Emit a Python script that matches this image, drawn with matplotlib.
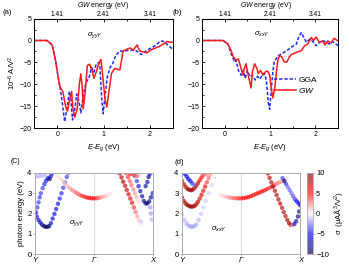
import numpy as np
import matplotlib
matplotlib.use('Agg')
import matplotlib.pyplot as plt
from matplotlib.lines import Line2D

plt.rcParams['font.family'] = ['Liberation Sans', 'DejaVu Sans']
plt.rcParams['mathtext.fontset'] = 'custom'
plt.rcParams['mathtext.rm'] = 'Liberation Sans'
plt.rcParams['mathtext.it'] = 'Liberation Sans:italic'
plt.rcParams['font.size'] = 5.5

# ---- (a) sigma_yyY : E-Eg (eV) vs 1e-6 A/V^2 ----
a_gw_x = [-0.5, -0.22, -0.11, -0.04, 0.02, 0.06, 0.12, 0.18, 0.22, 0.27, 0.31, 0.34, 0.38, 0.43,
          0.48, 0.51, 0.54, 0.56, 0.60, 0.65, 0.70, 0.76, 0.79, 0.84, 0.89, 0.94, 0.97, 1.03,
          1.07, 1.12, 1.17, 1.24, 1.35, 1.42, 1.50, 1.57, 1.64, 1.72, 1.78, 1.86, 1.93, 2.03,
          2.12, 2.21, 2.29, 2.36, 2.46, 2.5]
a_gw_y = [0.0, 0.0, -1.0, -4.3, -8.3, -10.6, -11.6, -14.9, -16.1, -13.4, -11.6, -15.6, -17.5, -15.6,
          -9.7, -7.6, -10.8, -15.6, -12.0, -5.7, -5.4, -7.2, -8.6, -7.2, -5.4, -4.3, -6.9, -13.4,
          -15.2, -11.2, -7.5, -6.4, -6.7, -2.4, -2.0, -1.7, -2.2, -1.0, -2.4, -2.6, -2.8, -2.1,
          -1.7, -1.3, -0.8, -0.25, -0.4, -0.4]
a_gga_x = [-0.5, -0.22, -0.11, -0.04, 0.02, 0.06, 0.10, 0.16, 0.22, 0.26, 0.29, 0.33, 0.38, 0.42,
           0.47, 0.51, 0.56, 0.62, 0.69, 0.74, 0.79, 0.83, 0.89, 0.92, 0.96, 0.99, 1.03, 1.08,
           1.14, 1.19, 1.26, 1.34, 1.44, 1.55, 1.70, 1.81, 1.91, 2.02, 2.13, 2.20, 2.27, 2.38,
           2.5]
a_gga_y = [0.0, 0.0, -1.0, -4.3, -8.3, -10.6, -13.4, -18.5, -14.9, -11.6, -12.8, -18.1, -15.6, -12.2,
           -13.8, -16.5, -12.5, -9.7, -8.3, -6.1, -7.2, -5.7, -5.0, -6.0, -13.4, -16.7, -12.7, -8.3,
           -6.1, -5.4, -3.5, -2.4, -2.4, -2.2, -2.3, -3.2, -2.4, -1.7, -1.1, -0.3, -0.1, -1.0,
           -2.1]

# ---- (b) sigma_xxY ----
b_gw_x = [-0.5, -0.04, 0.07, 0.14, 0.19, 0.25, 0.30, 0.35, 0.40, 0.43, 0.47, 0.50, 0.54, 0.58,
          0.61, 0.66, 0.71, 0.74, 0.79, 0.84, 0.90, 0.95, 0.99, 1.03, 1.06, 1.10, 1.14, 1.17,
          1.21, 1.26, 1.31, 1.37, 1.42, 1.47, 1.58, 1.69, 1.76, 1.83, 1.91, 1.96, 2.01, 2.09,
          2.16, 2.21, 2.27, 2.34, 2.41, 2.48, 2.5]
b_gw_y = [0.0, 0.0, -0.8, -2.3, -3.8, -4.5, -4.2, -6.0, -7.9, -6.4, -5.3, -7.1, -9.0, -10.8,
          -7.1, -5.3, -6.4, -7.5, -6.8, -7.9, -7.1, -7.0, -7.9, -11.2, -13.1, -11.0, -7.1, -4.5,
          -3.4, -3.8, -4.9, -4.9, -3.8, -3.2, -2.7, -2.3, -1.2, -0.8, 0.7, 0.0, 0.8, -0.5,
          -0.1, -1.0, -0.1, -0.6, 0.5, 0.0, 0.0]
b_gga_x = [-0.5, -0.04, 0.07, 0.14, 0.22, 0.25, 0.30, 0.36, 0.41, 0.45, 0.50, 0.55, 0.61, 0.67,
           0.72, 0.77, 0.83, 0.88, 0.92, 0.96, 0.99, 1.02, 1.06, 1.09, 1.13, 1.19, 1.26, 1.37,
           1.47, 1.58, 1.64, 1.69, 1.74, 1.80, 1.87, 1.94, 2.01, 2.09, 2.16, 2.23, 2.30, 2.37,
           2.45, 2.5]
b_gga_y = [0.0, 0.0, -0.8, -3.0, -4.9, -4.5, -6.8, -7.9, -6.8, -8.6, -6.8, -8.2, -7.9, -9.0,
           -8.2, -8.8, -7.9, -7.5, -9.4, -14.2, -15.7, -12.0, -7.1, -4.9, -4.2, -3.4, -3.0, -2.3,
           -1.5, -0.8, 1.1, 1.8, 0.7, -0.4, 0.3, -0.2, -1.2, -0.4, 0.0, -0.4, -0.8, -0.2,
           -0.8, -1.2]

# ---- (c) sigma_yyY on the Y-Gamma-X path: k, photon energy, sigma ----
c_k = [0.00, 0.03, 0.06, 0.09, 0.12, 0.15, 0.18, 0.21, 0.24, 0.27, 0.30, 0.33, 0.36, 0.39, 0.42,
       0.45, 0.48, 0.51, 0.54, 0.565,
       0.02, 0.04, 0.06, 0.08, 0.10, 0.13, 0.16, 0.19, 0.22, 0.25, 0.27, 0.29,
       0.02, 0.07, 0.12, 0.17,
       0.40, 0.44, 0.48, 0.52, 0.56, 0.60, 0.64, 0.68, 0.72, 0.76, 0.80, 0.84, 0.88, 0.92, 0.96,
       1.00, 1.04, 1.08, 1.12, 1.16, 1.20, 1.24, 1.28,
       1.44, 1.47, 1.50, 1.53, 1.56, 1.59, 1.62, 1.65, 1.68, 1.71, 1.74, 1.77, 1.80,
       1.55, 1.58, 1.61, 1.64, 1.67, 1.70, 1.73, 1.76,
       1.70, 1.73, 1.76, 1.79, 1.82, 1.85, 1.88, 1.91, 1.94, 1.97, 2.00,
       1.88, 1.91, 1.93, 1.95, 1.62, 1.68, 1.74,
       1.96, 1.97, 1.98, 1.80]
c_e = [2.05, 1.85, 1.68, 1.55, 1.45, 1.38, 1.34, 1.34, 1.38, 1.52, 1.75, 1.98, 2.22, 2.48, 2.74,
       3.00, 3.27, 3.53, 3.80, 4.00,
       2.05, 2.30, 2.55, 2.80, 3.00, 3.25, 3.45, 3.62, 3.75, 3.70, 3.85, 3.98,
       3.82, 3.84, 3.86, 3.88,
       3.83, 3.69, 3.56, 3.44, 3.33, 3.23, 3.14, 3.06, 2.99, 2.92, 2.87, 2.83, 2.79, 2.77, 2.75,
       2.75, 2.75, 2.77, 2.79, 2.83, 2.87, 2.92, 2.99,
       3.98, 3.78, 3.57, 3.37, 3.16, 2.95, 2.74, 2.53, 2.30, 2.08, 1.86, 1.65, 1.45,
       4.00, 3.80, 3.60, 3.40, 3.20, 3.00, 2.80, 2.60,
       3.85, 3.60, 3.35, 3.10, 2.85, 2.62, 2.50, 2.50, 2.60, 2.80, 3.00,
       3.35, 3.55, 3.80, 3.95, 3.95, 3.90, 3.85,
       2.30, 2.00, 1.70, 1.60]
c_s = [-4, -5, -6, -7, -8, -9, -10, -10, -9, -7, -6, -5, -5, -5, -4.5,
       -4.5, -4, -4, -4, -3.5,
       -4, -4, -4, -4, -4, -4, -4.5, -5, -7, -9, -6, -4,
       -1.5, -1.5, -1.5, -1.5,
       0.6, 0.8, 1.0, 1.3, 1.6, 2.0, 2.4, 2.8, 3.2, 3.6, 4.0, 4.4, 4.8, 5.0, 5.2,
       5.2, 4.5, 3.5, 2.5, 1.8, 1.2, 0.7, 0.4,
       8, 8, 8, 7.5, 7, 6.5, 6, 5, 4, 3, 2, 1.2, 0.5,
       4, 4, 3.5, 3, 2.5, 2, 1.5, 1,
       -3, -4, -5, -6, -7, -8, -9, -9, -9, -8, -6,
       -8, -7, -9, -6, 5, 4, 3,
       -2, -2, -1.5, -1]

# ---- (d) sigma_xxY ----
d_k = [0.00, 0.03, 0.06, 0.09, 0.12, 0.15, 0.18, 0.21, 0.24, 0.27, 0.30, 0.33, 0.36, 0.39, 0.42,
       0.45, 0.47,
       0.00, 0.03, 0.06, 0.09, 0.12, 0.15, 0.18, 0.21, 0.24, 0.27, 0.30, 0.33, 0.36, 0.39,
       0.05, 0.08, 0.11, 0.14, 0.17, 0.20, 0.37, 0.42, 0.47,
       0.00, 0.04, 0.08, 0.12, 0.16, 0.20, 0.24, 0.28, 0.32, 0.36, 0.40, 0.45, 0.50, 0.55,
       0.64, 0.68, 0.72, 0.76, 0.80, 0.84, 0.88, 0.92, 0.96, 1.00, 1.04, 1.08, 1.12, 1.16, 1.20,
       1.24, 1.28, 1.32, 1.36, 1.40, 1.44, 1.48, 1.52, 1.56, 1.60, 1.64, 1.68, 1.72, 1.76,
       1.45, 1.48, 1.51, 1.54, 1.57, 1.60, 1.63, 1.66, 1.69, 1.72, 1.75, 1.78, 1.81, 1.84, 1.87,
       1.90, 1.93, 1.96, 1.98, 2.00,
       1.70, 1.73, 1.76, 1.79, 1.82, 1.85, 1.88, 1.91, 1.94, 1.97]
d_e = [2.80, 2.62, 2.50, 2.42, 2.37, 2.34, 2.34, 2.37, 2.45, 2.58, 2.74, 2.92, 3.12, 3.33, 3.54,
       3.75, 3.90,
       3.62, 3.45, 3.32, 3.22, 3.17, 3.15, 3.17, 3.25, 3.37, 3.50, 3.64, 3.78, 3.90, 4.00,
       3.95, 3.82, 3.70, 3.60, 3.50, 3.42, 3.95, 3.92, 3.90,
       1.95, 1.68, 1.50, 1.39, 1.34, 1.36, 1.45, 1.68, 1.98, 2.30, 2.62, 3.00, 3.40, 3.80,
       2.92, 2.88, 2.85, 2.82, 2.79, 2.77, 2.76, 2.75, 2.75, 2.75, 2.76, 2.78, 2.81, 2.85, 2.90,
       2.95, 3.00, 3.05, 3.10, 3.15, 3.21, 3.27, 3.33, 3.40, 3.47, 3.53, 3.58, 3.63, 3.68,
       3.98, 3.76, 3.54, 3.33, 3.12, 2.91, 2.70, 2.49, 2.28, 2.07, 1.87, 1.68, 1.52, 1.44, 1.42,
       1.48, 1.62, 1.85, 2.10, 2.40,
       3.75, 3.60, 3.45, 3.30, 3.15, 3.00, 2.85, 2.70, 2.60, 2.50]
d_s = [7, 8, 8, 9, 9, 9, 9, 8.5, 8, 7.5, 7, 6.5, 6, 5, 4,
       3, 2,
       6, 7, 8, 8.5, 9, 9, 9, 8.5, 8, 7, 6, 5, 4, 3,
       -5, -6, -6, -5, -4, -3, 3, 2, 1.5,
       -1.2, -1.5, -1.8, -2, -2, -2, -1.8, -1.5, -1.2, -1, -1, -0.8, -0.8, -0.6,
       0.5, 0.8, 1.2, 1.6, 2.0, 2.5, 3.0, 3.5, 4.0, 4.5, 5.0, 5.0, 5.0, 5.0, 5.0,
       5.0, 5.0, 5.0, 5.0, 4.8, 4.5, 4.2, 4.0, 3.5, 3.0, 2.5, 2.0, 1.5, 1.0,
       8, 8, 8, 8, 8, 8, 8, 8, 8, 8, 8, 8.5, 9, 8, 2,
       -5, -8, -9, -8, -6,
       -4, -9, -4, -3, -3, -3, -3.5, -4, -5, -6]

k_ticks = [0, 1, 2]
k_labels = ['Y', 'Γ', 'X']

fig = plt.figure(figsize=(3.49, 2.77), dpi=100)

ax_a = fig.add_axes([0.0974, 0.537, 0.399, 0.396])
ax_b = fig.add_axes([0.579, 0.537, 0.390, 0.396])
ax_c = fig.add_axes([0.1003, 0.083, 0.3372, 0.2925])
ax_d = fig.add_axes([0.5215, 0.083, 0.339, 0.2925])
cax = fig.add_axes([0.879, 0.083, 0.017, 0.2925])

for ax, gw_x, gw_y, gga_x, gga_y, lab in [(ax_a, a_gw_x, a_gw_y, a_gga_x, a_gga_y, r'$\sigma_{yyY}$'),
                                          (ax_b, b_gw_x, b_gw_y, b_gga_x, b_gga_y, r'$\sigma_{xxY}$')]:
    ax.plot(gga_x, gga_y, color='#1f2bff', ls=(0, (2.2, 1.2)), lw=1.1, label='GGA')
    ax.plot(gw_x, gw_y, color='#ff1a1a', lw=1.1, label='$GW$')
    ax.set_xlim(-0.5, 2.5)
    ax.set_ylim(-20, 5)
    ax.set_xticks([0, 1, 2])
    ax.set_xticks(np.arange(-0.5, 2.6, 0.5), minor=True)
    ax.set_yticks(np.arange(-20, 6, 5))
    ax.set_yticks(np.arange(-20, 6, 2.5), minor=True)
    ax.tick_params(which='both', direction='in', labelsize=5, width=0.6, pad=2)
    ax.tick_params(which='major', length=2.5)
    ax.tick_params(which='minor', length=1.5)
    for sp in ax.spines.values():
        sp.set_linewidth(0.7)
    ax.set_xlabel('$E$-$E_g$ (eV)', fontsize=5.5, labelpad=3)
    top = ax.secondary_xaxis('top', functions=(lambda x: x + 1.41, lambda x: x - 1.41))
    top.set_xticks([1.41, 2.41, 3.41])
    top.set_xticks(np.arange(0.91, 4.0, 0.5), minor=True)
    top.tick_params(which='both', direction='in', labelsize=4.8, width=0.6, pad=0.3)
    top.tick_params(which='major', length=2.5)
    top.tick_params(which='minor', length=1.5)
    ax.text(0.82, 1.3, lab, fontsize=5.5, ha='center', va='center')

# top-axis titles placed by hand so they sit just above the tick labels
fig.text(0.2965, 0.999, '$GW$ energy (eV)', fontsize=5, ha='center', va='top')
fig.text(0.762, 0.999, '$GW$ energy (eV)', fontsize=5, ha='center', va='top')

ax_a.set_ylabel('10$^{-6}$ A/V$^2$', fontsize=5.5, labelpad=1)
ax_b.legend(handles=[Line2D([], [], color='#1f2bff', ls=(0, (2.2, 1.2)), lw=1.1, label='GGA'),
                     Line2D([], [], color='#ff1a1a', lw=1.1, label='$GW$')],
            loc='center left', bbox_to_anchor=(0.5, 0.39), frameon=False, fontsize=6,
            handlelength=2.6, handletextpad=0.3, labelspacing=0.2, borderpad=0)

for ax, k, e, s, lab, lpos in [(ax_c, c_k, c_e, c_s, r'$\sigma_{yyY}$', (0.72, 1.55)),
                               (ax_d, d_k, d_e, d_s, r'$\sigma_{xxY}$', (0.62, 1.22))]:
    ax.axvline(1, color='#dddddd', lw=0.8, zorder=0)
    sc = ax.scatter(k, e, c=s, cmap='seismic', vmin=-10, vmax=10, s=10, alpha=0.65,
                    edgecolors='none')
    ax.set_xlim(0, 2)
    ax.set_ylim(0, 4)
    ax.set_xticks(k_ticks)
    ax.set_xticklabels(k_labels, style='italic')
    ax.set_yticks([0, 1, 2, 3, 4])
    ax.tick_params(labelsize=5.5, length=1.5, width=0.5, pad=1, color='#999999')
    for sp in ax.spines.values():
        sp.set_color('#aaaaaa')
        sp.set_linewidth(0.7)
    ax.text(lpos[0], lpos[1], lab, fontsize=5.5, ha='center', va='center')

ax_c.set_ylabel('photon energy (eV)', fontsize=5.5, labelpad=2)

cb = fig.colorbar(sc, cax=cax)
cb.set_ticks([-10, -5, 0, 5, 10])
cb.ax.tick_params(labelsize=5.5, length=1.5, width=0.5, pad=1, color='#999999')
cb.outline.set_edgecolor('#aaaaaa')
cb.outline.set_linewidth(0.6)
cb.set_label('σ  (μAÅ$^3$/V$^2$)', fontsize=5.5, labelpad=2)

fig.text(0.008, 0.955, '(a)', fontsize=5.5, va='center')
fig.text(0.493, 0.955, '(b)', fontsize=5.5, va='center')
fig.text(0.03, 0.418, '(C)', fontsize=5, va='center')
fig.text(0.5, 0.415, '(d)', fontsize=5.5, va='center')

fig.savefig('out.png', dpi=100)
